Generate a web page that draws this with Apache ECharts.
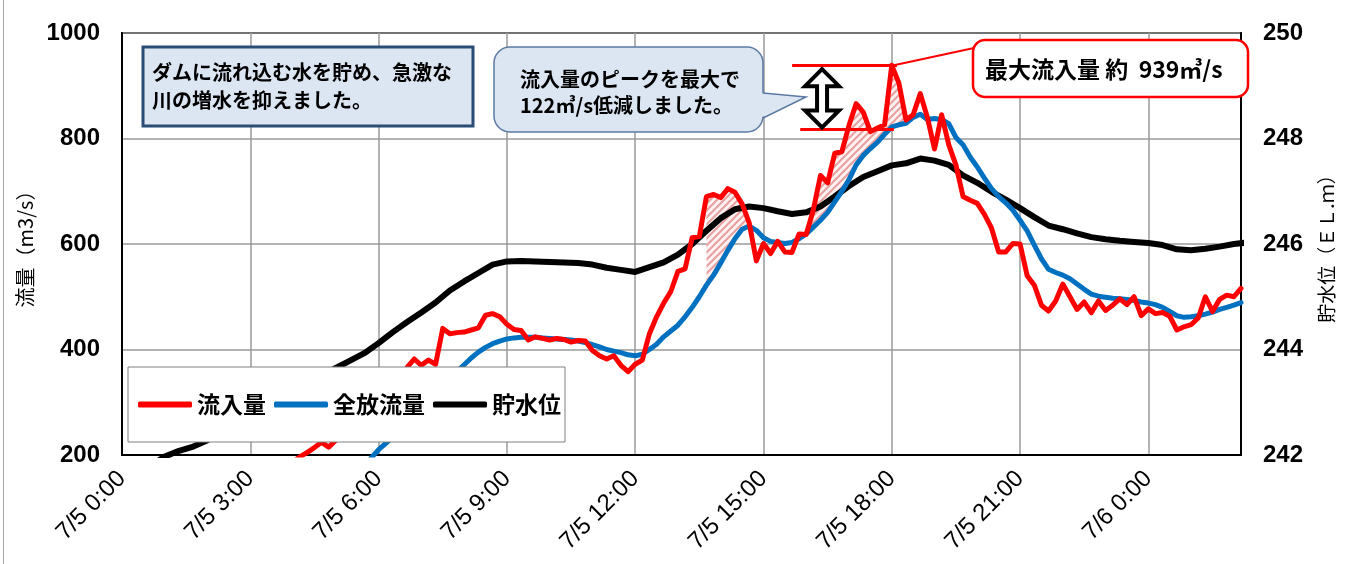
<!DOCTYPE html>
<html><head><meta charset="utf-8">
<script src="https://cdn.jsdelivr.net/npm/echarts@6/dist/echarts.min.js"></script>
<style>html,body{margin:0;padding:0;background:#fff}#c{width:1360px;height:564px}</style>
</head><body><div id="c"></div>
<script>
// ---- data (10-minute steps for flows from 7/5 0:00, 20-minute steps for level) ----
const seriesNames = ['流入量', '全放流量', '貯水位'];
const inflow = [
120,121,122,123,124,125,126,127,128,130,132,134,136,138,140,143,146,150,154,158,163,168,174,180,187,
197,205,214,224,215,
228,245,240,262,275,270,292,310,305,335,
366,382,370,380,372,440,430,432,433,437,
441,465,468,462,448,438,436,418,424,421,
418,421,419,414,417,416,398,388,382,388,
370,358,372,380,430,462,488,510,548,553,
612,614,690,694,688,705,698,676,640,568,
601,582,605,585,584,619,618,665,730,716,
772,775,825,866,850,813,820,826,939,905,
835,845,885,840,780,845,788,750,690,683,
677,656,630,585,585,601,600,540,522,484,
473,492,524,500,476,490,470,492,474,484,
496,485,500,464,477,468,470,463,437,443,
447,460,500,472,495,503,500,516];
const release = [
60,60,61,61,62,62,63,63,64,64,65,66,67,68,69,70,72,74,76,78,80,83,86,89,93,97,101,106,112,118,
126,136,148,162,178,195,210,222,234,248,
262,276,290,304,318,332,346,358,371,384,
395,404,411,416,420,422,423,423,423,422,
421,420,419,418,416,413,409,405,400,397,
394,390,388,391,400,410,424,435,446,462,
480,500,522,541,564,588,610,628,634,626,
612,605,603,601,603,610,619,632,645,660,
680,700,722,750,768,781,793,808,822,826,
829,840,846,836,838,836,828,802,788,765,
746,725,705,690,678,664,645,625,598,572,
552,546,541,534,524,514,505,501,499,497,
496,495,493,490,488,485,480,472,464,461,
462,464,467,471,476,480,484,489];
const level = [
241.6,241.7,241.8,241.97,242.08,242.16,242.28,242.43,242.58,242.74,
242.89,243.04,243.19,243.34,243.5,243.65,243.79,243.93,244.12,244.33,
244.52,244.7,244.89,245.12,245.29,245.45,245.61,245.67,245.68,245.67,
245.66,245.65,245.64,245.61,245.55,245.51,245.47,245.56,245.65,245.8,
246.0,246.25,246.49,246.66,246.71,246.68,246.62,246.57,246.6,246.71,
246.9,247.1,247.27,247.38,247.49,247.53,247.62,247.58,247.5,247.3,
247.16,246.99,246.84,246.68,246.51,246.35,246.28,246.2,246.13,246.09,
246.06,246.04,246.02,245.98,245.9,245.88,245.91,245.95,246.0,246.03];
const hatchWindows = [[82, 89], [96, 110]]; // sample index ranges of the reduced (hatched) area
const peakFlow = 939;
const peakReduction = 122;
const flowTicks = [200, 1000, 200];
const levelTicks = [242, 250, 2];
const flowAxisName = '流量（m3/s）';
const levelAxisName = '貯水位（ＥＬ.ｍ）';
const note1 = 'ダムに流れ込む水を貯め、急激な\n川の増水を抑えました。';
const note2 = '流入量のピークを最大で\n' + peakReduction + '㎥/s低減しました。';
const note3 = '最大流入量 約  ' + peakFlow + '㎥/s';

const STEP_FLOW = 1 / 6, STEP_LEVEL = 1 / 3;
const lastH = (inflow.length - 1) * STEP_FLOW;
const inflowPts = inflow.map((v, i) => [i * STEP_FLOW, v]);
const releasePts = release.map((v, i) => [i * STEP_FLOW, v]);
const levelPts = level.map((v, i) => [i * STEP_LEVEL, v]);

// hatch pattern
const pc = document.createElement('canvas');
pc.width = 7; pc.height = 7;
const g = pc.getContext('2d');
g.fillStyle = '#fdf1f1'; g.fillRect(0, 0, 7, 7);
g.strokeStyle = '#e8a0a0'; g.lineWidth = 2;
g.beginPath(); g.moveTo(-1, 8); g.lineTo(8, -1); g.moveTo(-1, 1); g.lineTo(1, -1); g.moveTo(6, 8); g.lineTo(8, 6); g.stroke();

const CJK = '"Noto Sans CJK JP", sans-serif';
const LAT = '"Liberation Sans", Arial, sans-serif';

const chart = echarts.init(document.getElementById('c'));
chart.setOption({
  animation: false,
  backgroundColor: '#fff',
  grid: { left: 122, right: 119, top: 33, bottom: 109, show: true, borderColor: '#000', borderWidth: 2 },
  legend: {
    data: seriesNames, left: 128, top: 367, orient: 'horizontal', z: 50,
    backgroundColor: '#fff', borderColor: '#808080', borderWidth: 1,
    padding: [26, 4, 26, 10], itemGap: 8, itemWidth: 54, itemHeight: 6, icon: 'roundRect',
    textStyle: { fontSize: 23, fontWeight: 'bold', fontFamily: CJK, color: '#000' }
  },
  xAxis: {
    type: 'value', min: 0, max: lastH, interval: 3,
    axisLine: { show: true, lineStyle: { color: '#000', width: 2 } },
    axisTick: { show: false },
    splitLine: { show: true, lineStyle: { color: '#9a9a9a', width: 1.5 } },
    axisLabel: {
      rotate: 45, fontSize: 24, fontFamily: LAT, color: '#000', margin: 20, showMaxLabel: false,
      formatter: v => {
        const h = Math.round(v);
        if (Math.abs(v - h) > 1e-6 || h % 3) return '';
        return h < 24 ? '7/5 ' + h + ':00' : '7/6 ' + (h - 24) + ':00';
      }
    }
  },
  yAxis: [{
    type: 'value', min: flowTicks[0], max: flowTicks[1], interval: flowTicks[2],
    name: flowAxisName, nameLocation: 'middle', nameGap: 78, nameRotate: 90,
    nameTextStyle: { fontSize: 20, fontFamily: CJK, color: '#000' },
    axisLine: { show: true, lineStyle: { color: '#000', width: 2 } },
    axisTick: { show: false },
    splitLine: { show: true, lineStyle: { color: '#9a9a9a', width: 1.5 } },
    axisLabel: { fontSize: 24, fontWeight: 'bold', fontFamily: LAT, color: '#000', margin: 22, formatter: v => String(v) }
  }, {
    type: 'value', min: levelTicks[0], max: levelTicks[1], interval: levelTicks[2],
    name: levelAxisName, nameLocation: 'middle', nameGap: 76, nameRotate: 90,
    nameTextStyle: { fontSize: 19, fontFamily: CJK, color: '#000' },
    axisLine: { show: true, lineStyle: { color: '#000', width: 2 } },
    axisTick: { show: false },
    splitLine: { show: false },
    axisLabel: { fontSize: 24, fontWeight: 'bold', fontFamily: LAT, color: '#000', margin: 22, formatter: v => String(v) }
  }],
  series: [{
    type: 'custom', name: 'hatch', z: 1, silent: true,
    data: hatchWindows.map(w => [w[0] * STEP_FLOW, release[w[0]]]),
    encode: { x: 0, y: 1 },
    renderItem: (params, api) => {
      const w = hatchWindows[params.dataIndex];
      const pts = [];
      for (let k = w[0]; k <= w[1]; k++) pts.push(api.coord([k * STEP_FLOW, Math.max(inflow[k], release[k])]));
      for (let k = w[1]; k >= w[0]; k--) pts.push(api.coord([k * STEP_FLOW, release[k]]));
      return { type: 'polygon', shape: { points: pts }, style: { fill: { image: pc, repeat: 'repeat' }, stroke: null } };
    }
  }, {
    name: seriesNames[2], type: 'line', yAxisIndex: 1, data: levelPts, z: 2,
    showSymbol: false, symbol: 'none', color: '#000',
    lineStyle: { color: '#000', width: 6, join: 'round', cap: 'round' }
  }, {
    name: seriesNames[1], type: 'line', yAxisIndex: 0, data: releasePts, z: 3,
    showSymbol: false, symbol: 'none', color: '#0070c0',
    lineStyle: { color: '#0070c0', width: 5, join: 'round', cap: 'round' }
  }, {
    name: seriesNames[0], type: 'line', yAxisIndex: 0, data: inflowPts, z: 4,
    showSymbol: false, symbol: 'none', color: '#ff0000',
    lineStyle: { color: '#ff0000', width: 5, join: 'round', cap: 'round' },
    markLine: {
      silent: true, symbol: ['none', 'none'], animation: false,
      label: { show: false },
      lineStyle: { color: '#ff0000', width: 3, type: 'solid' },
      data: [
        [{ coord: [15.67, peakFlow] }, { coord: [18.12, peakFlow] }],
        [{ coord: [15.86, peakFlow - peakReduction] }, { coord: [18.05, peakFlow - peakReduction] }]
      ]
    }
  }]
});

// annotations
const yTop = chart.convertToPixel({ yAxisIndex: 0 }, peakFlow);
const yBot = chart.convertToPixel({ yAxisIndex: 0 }, peakFlow - peakReduction);
const ax = chart.convertToPixel({ xAxisIndex: 0 }, 16.37);
const pk = chart.convertToPixel({ xAxisIndex: 0, yAxisIndex: 0 }, [18.05, peakFlow]);
const y0 = yTop + 4, y1 = yBot - 2, hw = 17, hh = 17, sw = 5;
const arrowPts = [[ax, y0], [ax + hw, y0 + hh], [ax + sw, y0 + hh], [ax + sw, y1 - hh], [ax + hw, y1 - hh], [ax, y1],
  [ax - hw, y1 - hh], [ax - sw, y1 - hh], [ax - sw, y0 + hh], [ax - hw, y0 + hh]];

chart.setOption({
  graphic: [
    { type: 'line', z: 100, shape: { x1: 3.5, y1: 0, x2: 3.5, y2: 564 }, style: { stroke: '#a6a6a6', lineWidth: 1 } },
    { type: 'rect', z: 100, shape: { x: 143, y: 47, width: 330, height: 79 }, style: { fill: '#dce6f2', stroke: '#2b4c74', lineWidth: 3 } },
    { type: 'text', z: 101, style: { x: 152, y: 58, text: note1, font: 'bold 20px ' + CJK, fill: '#000', lineHeight: 28, verticalAlign: 'top' } },
    { type: 'rect', z: 100, shape: { x: 494, y: 47, width: 269, height: 85, r: 16 }, style: { fill: '#dce6f2', stroke: '#5a7aa3', lineWidth: 1.5 } },
    { type: 'polygon', z: 101, shape: { points: [[760, 93], [806, 97], [760, 118]] }, style: { fill: '#dce6f2', stroke: null } },
    { type: 'polyline', z: 101, shape: { points: [[763, 93], [806, 97], [763, 118]] }, style: { stroke: '#5a7aa3', lineWidth: 1.5, fill: null } },
    { type: 'text', z: 102, style: { x: 520, y: 66, text: note2, font: 'bold 20px ' + CJK, fill: '#000', lineHeight: 26, verticalAlign: 'top' } },
    { type: 'polygon', z: 103, shape: { points: arrowPts }, style: { fill: '#fff', stroke: '#000', lineWidth: 4, lineJoin: 'miter' } },
    { type: 'line', z: 103, shape: { x1: pk[0], y1: pk[1], x2: 974, y2: 48 }, style: { stroke: '#ff0000', lineWidth: 2 } },
    { type: 'rect', z: 104, shape: { x: 973, y: 40, width: 275, height: 57, r: 12 }, style: { fill: '#fff', stroke: '#ff0000', lineWidth: 2.5 } },
    { type: 'text', z: 105, style: { x: 985, y: 55, text: note3, font: 'bold 23px ' + CJK, fill: '#000', lineHeight: 28, verticalAlign: 'top' } }
  ]
});
</script></body></html>
